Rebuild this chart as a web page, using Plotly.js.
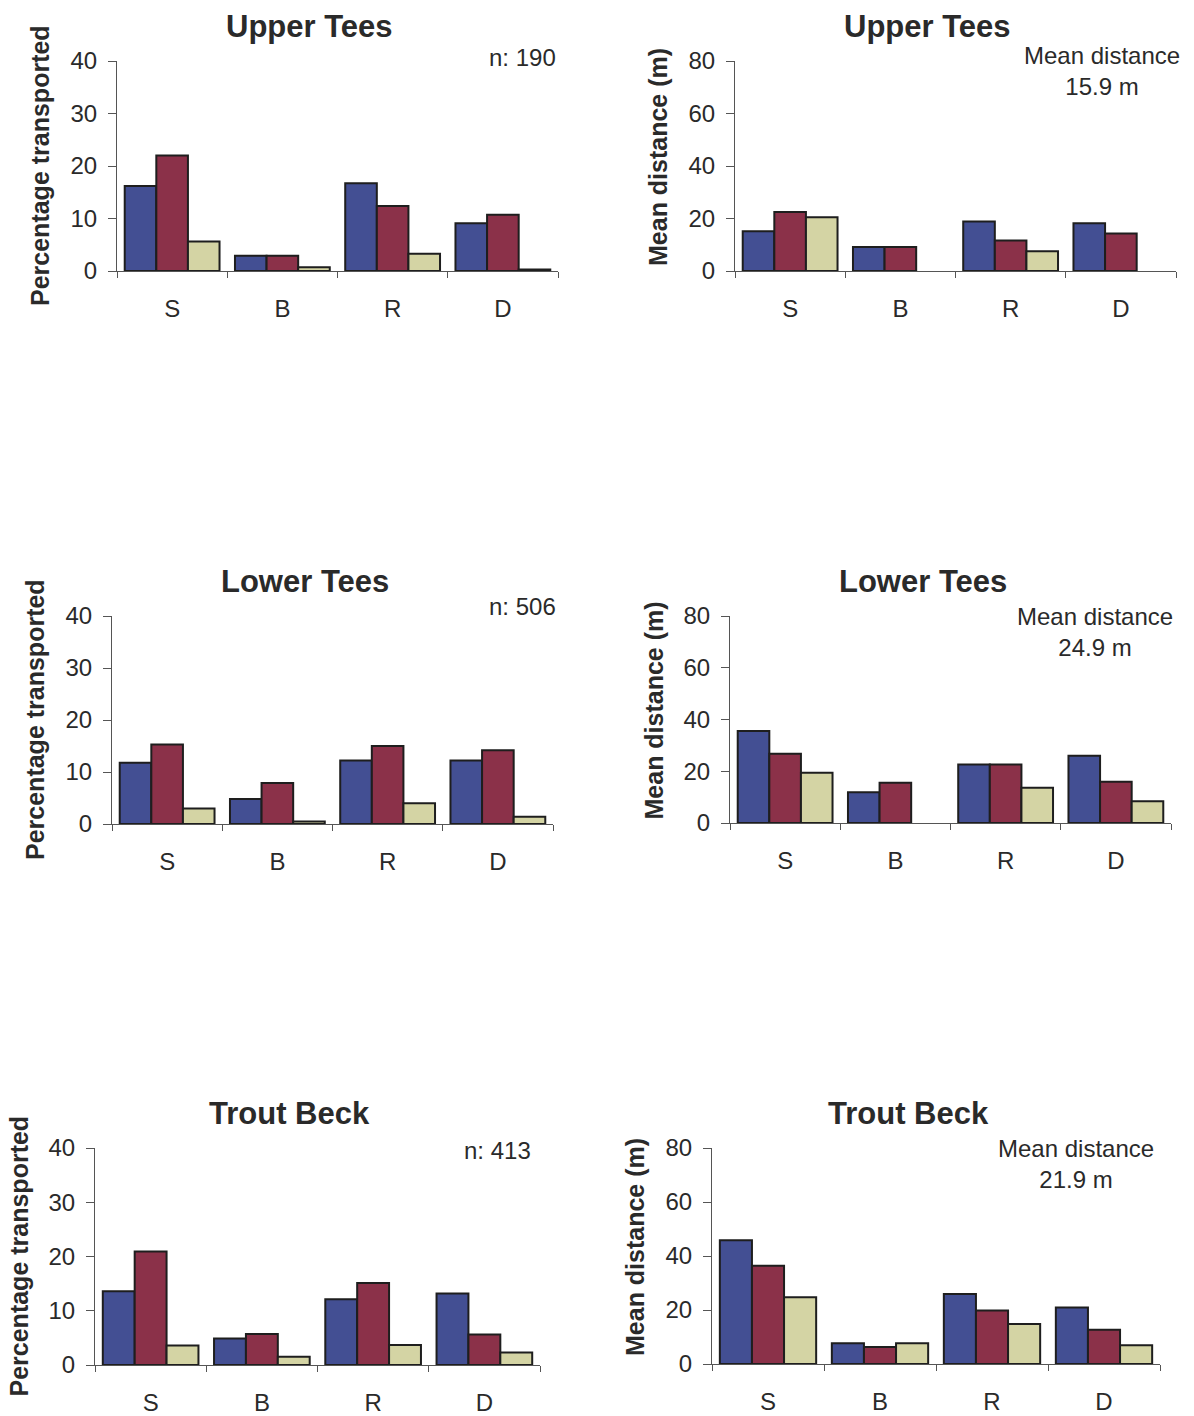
<!DOCTYPE html>
<html>
<head>
<meta charset="utf-8">
<script src="https://cdn.plot.ly/plotly-3.0.1.min.js"></script>
<style>html,body{margin:0;padding:0;background:#fff;}#chart{width:1194px;height:1416px;}</style>
</head>
<body>
<div id="chart"></div>
<script>
const categories = ['S', 'B', 'R', 'D'];
const seriesNames = ['Series 1', 'Series 2', 'Series 3'];

// Upper Tees
const utPctBlue = [16.2, 2.9, 16.7, 9.1];
const utPctRed = [22.0, 2.9, 12.4, 10.7];
const utPctTan = [5.6, 0.7, 3.3, 0.3];
const utDistBlue = [15.1, 9.1, 18.9, 18.2];
const utDistRed = [22.5, 9.1, 11.6, 14.3];
const utDistTan = [20.5, null, 7.5, null];
// Lower Tees
const ltPctBlue = [11.8, 4.8, 12.2, 12.2];
const ltPctRed = [15.3, 7.9, 15.0, 14.2];
const ltPctTan = [3.0, 0.5, 4.0, 1.4];
const ltDistBlue = [35.6, 11.9, 22.6, 26.0];
const ltDistRed = [26.8, 15.6, 22.6, 15.9];
const ltDistTan = [19.4, null, 13.6, 8.4];
// Trout Beck
const tbPctBlue = [13.6, 4.9, 12.1, 13.2];
const tbPctRed = [20.9, 5.7, 15.1, 5.6];
const tbPctTan = [3.6, 1.5, 3.7, 2.3];
const tbDistBlue = [45.8, 7.7, 25.9, 20.9];
const tbDistRed = [36.4, 6.3, 19.8, 12.7];
const tbDistTan = [24.7, 7.7, 14.8, 6.9];

const panelTitles = ['Upper Tees', 'Upper Tees', 'Lower Tees', 'Lower Tees', 'Trout Beck', 'Trout Beck'];
const pctTitle = 'Percentage transported';
const distTitle = 'Mean distance (m)';
const nLabels = ['n: 190', 'n: 506', 'n: 413'];
const meanLabels = ['15.9 m', '24.9 m', '21.9 m'];

const W = 1194, H = 1416;
const FONT = 'Liberation Sans, Arial, sans-serif';
const TXT = '#2a2a2a';
const colors = ['#434f93', '#8b3149', '#d4d4a4'];

// pixel boxes: [left, right, bottom(y of 0), top(y of max)]
const boxes = [
  [117, 558, 271, 61],
  [735, 1176, 271, 61],
  [112, 553, 824, 616],
  [730, 1171, 823, 616],
  [95, 540, 1365, 1148],
  [712, 1160, 1364, 1148]
];
// text anchor positions in pixels
const nPos = [[522, 57], [522, 606], [497, 1150]];
const meanPos = [[1102, 71], [1095, 632], [1076, 1164]];
const ymax = [40, 80, 40, 80, 40, 80];
const panelData = [
  [utPctBlue, utPctRed, utPctTan],
  [utDistBlue, utDistRed, utDistTan],
  [ltPctBlue, ltPctRed, ltPctTan],
  [ltDistBlue, ltDistRed, ltDistTan],
  [tbPctBlue, tbPctRed, tbPctTan],
  [tbDistBlue, tbDistRed, tbDistTan]
];

const data = [];
const layout = {
  width: W, height: H,
  margin: {l: 0, r: 0, t: 0, b: 0},
  paper_bgcolor: '#ffffff', plot_bgcolor: 'rgba(0,0,0,0)',
  showlegend: false,
  barmode: 'group', bargap: 0.14, bargroupgap: 0,
  font: {family: FONT, color: TXT},
  annotations: []
};

boxes.forEach((b, i) => {
  const k = i + 1;
  const xa = 'xaxis' + (k === 1 ? '' : k);
  const ya = 'yaxis' + (k === 1 ? '' : k);
  const xr = 'x' + (k === 1 ? '' : k);
  const yr = 'y' + (k === 1 ? '' : k);
  panelData[i].forEach((vals, s) => {
    data.push({
      type: 'bar', x: categories, y: vals, name: seriesNames[s],
      xaxis: xr, yaxis: yr,
      marker: {color: colors[s], line: {color: '#1e1e1e', width: 2}}
    });
  });
  layout[xa] = {
    domain: [b[0] / W, b[1] / W], anchor: yr,
    type: 'category', range: [-0.5, 3.5],
    showline: true, linecolor: '#555', linewidth: 1,
    ticks: 'outside', tickson: 'boundaries', ticklen: 6, tickcolor: '#555',
    ticklabelstandoff: 16,
    showgrid: false, zeroline: false,
    tickfont: {family: FONT, size: 24, color: TXT}
  };
  layout[ya] = {
    domain: [1 - b[2] / H, 1 - b[3] / H], anchor: xr,
    range: [0, ymax[i]], dtick: ymax[i] / 4,
    showline: true, linecolor: '#555', linewidth: 1,
    ticks: 'outside', ticklen: 8, tickcolor: '#555',
    ticklabelstandoff: 6,
    showgrid: false, zeroline: false,
    tickfont: {family: FONT, size: 24, color: TXT}
  };
  // panel title
  layout.annotations.push({
    xref: 'paper', yref: 'paper',
    x: ((b[0] + b[1]) / 2 - 28) / W, y: 1 - (b[3] - 35) / H,
    text: '<b>' + panelTitles[i] + '</b>', showarrow: false,
    xanchor: 'center', yanchor: 'middle',
    font: {family: FONT, size: 31, color: TXT}
  });
  // y axis title
  const isPct = (i % 2 === 0);
  layout.annotations.push({
    xref: 'paper', yref: 'paper',
    x: (b[0] - 77) / W, y: 1 - ((b[2] + b[3]) / 2 + (isPct ? 0 : -9)) / H,
    text: '<b>' + (isPct ? pctTitle : distTitle) + '</b>', showarrow: false,
    textangle: -90, xanchor: 'center', yanchor: 'middle',
    font: {family: FONT, size: 25, color: TXT}
  });
  if (isPct) {
    const p = nPos[i / 2];
    layout.annotations.push({
      xref: 'paper', yref: 'paper',
      x: p[0] / W, y: 1 - p[1] / H,
      text: nLabels[i / 2], showarrow: false,
      xanchor: 'center', yanchor: 'middle',
      font: {family: FONT, size: 24, color: TXT}
    });
  } else {
    const p = meanPos[(i - 1) / 2];
    layout.annotations.push({
      xref: 'paper', yref: 'paper',
      x: p[0] / W, y: 1 - p[1] / H,
      text: 'Mean distance<br>' + meanLabels[(i - 1) / 2], showarrow: false,
      xanchor: 'center', yanchor: 'middle', align: 'center',
      font: {family: FONT, size: 24, color: TXT}
    });
  }
});

Plotly.newPlot('chart', data, layout, {staticPlot: true, displayModeBar: false});
</script>
</body>
</html>
